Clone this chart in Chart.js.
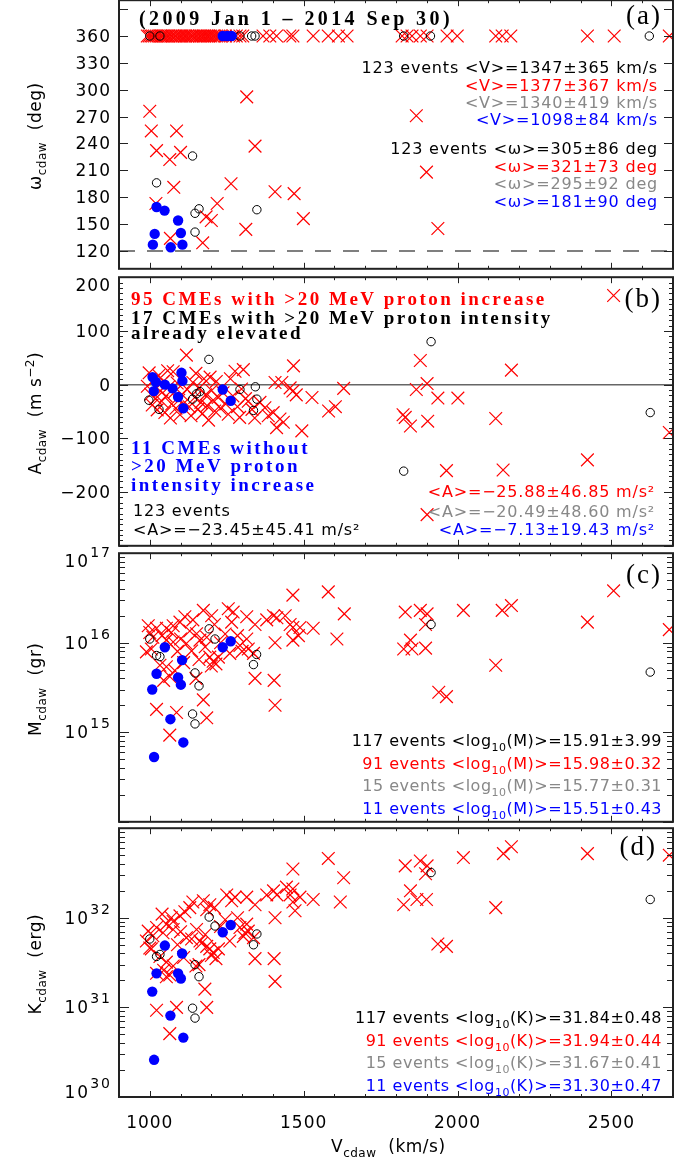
<!DOCTYPE html>
<html>
<head>
<meta charset="utf-8">
<title>CDAW CMEs 2009-2014</title>
<script src="https://cdn.jsdelivr.net/npm/chart.js@4.4.1/dist/chart.umd.min.js"></script>
<style>
  body { margin: 0; background: #fff; }
  #tablero { position: relative; width: 699px; height: 1163px; overflow: hidden; }
  #tablero canvas { position: absolute; left: 0; }
</style>
</head>
<body>
<div id="tablero">
  <canvas id="chartOmega" width="699" height="289" style="top:-10px"></canvas>
  <canvas id="chartAcel" width="699" height="289" style="top:267px"></canvas>
  <canvas id="chartMasa" width="699" height="289" style="top:543px"></canvas>
  <canvas id="chartEnergia" width="699" height="345" style="top:818px"></canvas>
</div>
<script>
const SANS = '"DejaVu Sans", sans-serif';
const SERIF = '"Liberation Serif", "Times New Roman", serif';
const ROJO = '#ff0000', AZUL = '#0000ff', GRIS = '#888888', NEGRO = '#000000';

// --- ejes ---
const vTicks = [1000, 1500, 2000, 2500];
const vMinor = [900, 1100, 1200, 1300, 1400, 1600, 1700, 1800, 1900, 2100, 2200, 2300, 2400, 2600, 2700];
const omegaTicks = [120, 150, 180, 210, 240, 270, 300, 330, 360];
const acelTicks = [-200, -100, 0, 100, 200];
const masaExp = [15, 16, 17];
const energiaExp = [30, 31, 32];

// --- (a) ancho angular [V, omega] ---
const omegaRed360 = [992, 998, 1004, 1009, 1015, 1021, 1027, 1034, 1039, 1044, 1051, 1057, 1062, 1069, 1074,
  1081, 1086, 1093, 1099, 1105, 1112, 1117, 1123, 1130, 1136, 1141, 1148, 1154, 1161, 1166, 1173, 1179, 1186,
  1192, 1198, 1205, 1211, 1217, 1224, 1230, 1246, 1272, 1281, 1293, 1302, 1368, 1390, 1412, 1455, 1465, 1531,
  1580, 1613, 1641, 1820, 1836, 1852, 1879, 1901, 1966, 1999, 2124, 2145, 2173, 2422, 2509, 2688];
const omegaRed = [[1000, 276], [1005, 254], [1022, 232], [1065, 222], [1087, 254], [1100, 230], [1078, 191],
  [1020, 173], [1067, 134], [1172, 129], [1183, 158], [1200, 154], [1219, 173], [1264, 195], [1315, 292],
  [1342, 237], [1312, 144], [1407, 186], [1469, 184], [1499, 156], [1866, 271], [1899, 208], [1936, 145]];
const omegaBlack360 = [1000, 1033, 1293, 1331, 1342, 1825, 1912, 2623];
const omegaBlack = [[1022, 196], [1139, 226], [1147, 162], [1160, 167], [1147, 141], [1348, 166]];
const omegaBlue = [[1010, 127], [1016, 139], [1022, 169], [1048, 165], [1068, 124], [1092, 154], [1101, 140],
  [1106, 127], [1237, 360], [1252, 360], [1266, 360]];

// --- (b) aceleracion [V, A] ---
const acelRed = [[992, -3], [998, 22], [1003, -18], [1008, -38], [1014, 9], [1019, -26], [1024, -47], [1029, 17],
  [1034, -12], [1039, -31], [1044, 6], [1049, -52], [1053, -21], [1058, 26], [1062, -4], [1067, -62], [1071, -36],
  [1076, 24], [1080, -14], [1085, -44], [1089, 3], [1094, -29], [1098, -56], [1104, -18], [1110, -35], [1119, 55],
  [1122, -9], [1128, -41], [1134, -58], [1140, 4], [1146, -24], [1150, 21], [1156, -46], [1161, -6], [1166, -33],
  [1171, -54], [1176, 11], [1181, -19], [1186, -39], [1191, -66], [1196, 14], [1201, -11], [1206, -29], [1211, -49],
  [1216, 6], [1222, -24], [1229, -44], [1238, -15], [1247, -36], [1255, -55], [1262, 11], [1270, -21], [1277, 25],
  [1285, -41], [1292, -61], [1298, -8], [1304, 28], [1311, -26], [1320, -31], [1332, -46], [1341, -62], [1358, -33],
  [1374, -43], [1385, -58], [1401, -52], [1407, 4], [1412, -80], [1423, -64], [1429, 4], [1434, -70], [1456, -6],
  [1465, -12], [1467, 35], [1476, -19], [1494, -86], [1527, -24], [1581, -49], [1603, -41], [1630, -7],
  [1823, -56], [1830, -61], [1847, -77], [1866, -9], [1879, 45], [1901, 2], [1901, -242], [1903, -68], [1936, -25],
  [1964, -160], [2001, -25], [2124, -63], [2148, -159], [2175, 27], [2422, -140], [2507, 166], [2688, -89]];
const acelBlack = [[997, -29], [1030, -46], [1192, 47], [1139, -27], [1152, -17], [1163, -13], [1293, -9],
  [1343, -4], [1348, -27], [1337, -48], [1914, 80], [1825, -161], [2626, -52]];
const acelBlue = [[1009, 14], [1013, -12], [1020, 5], [1049, 0], [1074, -7], [1092, -23], [1103, 22], [1106, 7],
  [1109, -44], [1237, -9], [1263, -30]];

// --- (c) masa [V, M (gr)] ---
const masaRed = [[2507, 3.8e16], [1632, 2.1e16], [1830, 2.2e16], [1879, 2.3e16], [1901, 2.1e16], [1896, 1.6e16],
  [1825, 8.5e15], [1847, 1.07e16], [1852, 8.5e15], [1896, 8.7e15], [2019, 2.3e16], [2145, 2.3e16], [2175, 2.6e16],
  [2422, 1.7e16], [2688, 1.4e16], [2124, 5.6e15], [1939, 2.8e15], [1964, 2.5e15],
  [1465, 3.4e16], [1580, 3.7e16], [1608, 1.1e16], [1465, 1.07e16], [1483, 1.2e16], [1465, 1.48e16], [1456, 1.6e16],
  [1488, 1.48e16], [1531, 1.45e16], [1407, 1.0e16], [1402, 2.0e16], [1413, 1.9e16], [1380, 1.8e16], [1440, 2.0e16],
  [1315, 1.95e16], [1342, 1.6e16], [1315, 1.1e16], [1320, 8.5e15], [1337, 7.6e15], [1342, 4.0e15], [1404, 3.8e15],
  [1407, 2.0e15],
  [1255, 2.4e16], [1266, 1.7e16], [1271, 2.2e16], [1174, 2.3e16], [1201, 2.0e16], [1114, 1.95e16], [1098, 1.7e16],
  [1076, 1.55e16], [1054, 1.45e16], [1054, 1.07e16], [1076, 1.02e16], [995, 1.55e16], [1022, 1.45e16], [1005, 8.5e15],
  [989, 7.9e15], [1033, 5.6e15], [1054, 5.4e15], [1081, 4.9e15], [1065, 4.2e15], [1119, 9.8e15], [1136, 8.1e15],
  [1152, 1.26e16], [1163, 1.07e16], [1185, 1.15e16], [1195, 6.9e15], [1206, 6.2e15], [1223, 6.9e15], [1174, 2.3e15],
  [1185, 1.45e15], [1022, 1.8e15], [1087, 1.66e15], [1065, 9.3e14], [1260, 7.6e15], [1293, 9.3e15],
  [1040, 1.2e16], [1090, 8.0e15], [1130, 1.35e16], [1215, 5.8e15], [1230, 1.0e16], [1245, 1.25e16], [1110, 6.0e15],
  [1160, 6.5e15], [1200, 5.5e15], [1180, 9.0e15], [1010, 1.15e16], [1070, 1.3e16], [1300, 8.0e15], [1285, 1.2e16],
  [1150, 4.0e15], [1045, 3.8e15], [1210, 1.6e16], [1140, 1.8e16], [1000, 1.3e16], [1100, 1.1e16]];
const masaBlack = [[1000, 1.1e16], [1022, 7.2e15], [1033, 7.0e15], [1139, 1.6e15], [1147, 1.24e15], [1147, 4.6e15],
  [1160, 3.3e15], [1193, 1.43e16], [1212, 1.1e16], [1337, 5.7e15], [1347, 7.4e15], [1914, 1.6e16], [2626, 4.7e15]];
const masaBlue = [[1008, 3.0e15], [1014, 5.3e14], [1022, 4.5e15], [1049, 8.9e15], [1067, 1.4e15], [1092, 4.1e15],
  [1101, 3.4e15], [1105, 6.4e15], [1109, 7.7e14], [1237, 8.9e15], [1263, 1.04e16]];

// --- (d) energia cinetica [V, K (erg)] ---
const energiaRed = [[2422, 5.2e32], [2688, 5.0e32], [2149, 5.2e32], [2175, 6.2e32], [2019, 4.7e32], [1830, 3.8e32],
  [1879, 4.3e32], [1901, 3.8e32], [1896, 3.1e32], [1847, 2.0e32], [1868, 1.6e32], [1825, 1.4e32], [1899, 1.6e32],
  [2124, 1.3e32], [1936, 5.1e31], [1964, 4.8e31], [1630, 2.8e32], [1619, 1.5e32],
  [1580, 4.6e32], [1465, 3.5e32], [1465, 2.1e32], [1456, 1.8e32], [1488, 1.7e32], [1531, 1.6e32], [1465, 1.5e32],
  [1472, 1.2e32], [1444, 2.2e32], [1407, 1.0e32], [1402, 2.0e32], [1380, 1.8e32], [1413, 1.8e32], [1315, 1.7e32],
  [1342, 1.4e32], [1315, 8.5e31], [1320, 7.1e31], [1337, 6.0e31], [1304, 6.2e31], [1342, 3.5e31], [1404, 3.5e31],
  [1407, 1.95e31],
  [1250, 1.8e32], [1266, 1.55e32], [1277, 1.7e32], [1174, 1.55e32], [1195, 1.4e32], [1185, 1.23e32], [1114, 1.17e32],
  [1098, 1.05e32], [1076, 9.1e31], [1054, 8.5e31], [1076, 7.4e31], [1043, 6.8e31], [1022, 7.8e31], [995, 7.1e31],
  [1005, 4.5e31], [989, 5.5e31], [1000, 4.6e31], [1033, 3.7e31], [1054, 3.2e31], [1076, 2.9e31], [1065, 2.3e31],
  [1119, 6.0e31], [1136, 5.8e31], [1152, 7.4e31], [1168, 5.2e31], [1185, 4.8e31], [1195, 4.5e31], [1206, 4.1e31],
  [1223, 4.5e31], [1163, 5.5e31], [1260, 5.5e31], [1293, 7.8e31], [1309, 6.8e31], [1179, 1.6e31], [1185, 1.0e31],
  [1022, 9.3e30], [1087, 1.0e31], [1065, 5.1e30], [1022, 2.4e31], [1054, 2.2e31],
  [1040, 1.1e32], [1090, 5.0e31], [1130, 1.3e32], [1215, 3.5e31], [1230, 8.0e31], [1245, 9.5e31], [1110, 3.6e31],
  [1160, 3.0e31], [1200, 3.8e31], [1180, 6.5e31], [1010, 6.3e31], [1070, 1.0e32], [1285, 1.0e32], [1150, 2.9e31],
  [1045, 2.6e31], [1210, 1.3e32], [1140, 1.5e32], [1100, 7.0e31]];
const energiaBlack = [[1000, 5.8e31], [1022, 3.7e31], [1033, 3.9e31], [1147, 3.0e31], [1160, 2.2e31], [1139, 9.8e30],
  [1147, 7.6e30], [1193, 1.02e32], [1212, 8.1e31], [1337, 5.0e31], [1348, 6.6e31], [1914, 3.2e32], [2626, 1.6e32]];
const energiaBlue = [[1008, 1.5e31], [1014, 2.6e30], [1022, 2.4e31], [1049, 4.9e31], [1067, 8.1e30], [1092, 2.4e31],
  [1101, 2.1e31], [1105, 4.0e31], [1109, 4.6e30], [1237, 6.9e31], [1263, 8.3e31]];

// --- texto con subindices / superindices ---
function dibujarTexto(ctx, partes, x, y, alinear, tam, familia, peso, espacio) {
  const fuente = p => `${peso || ''} ${p.s ? Math.round(tam * (p.f || 0.7)) : tam}px ${familia}`;
  ctx.letterSpacing = (espacio || 0) + 'px';
  let ancho = 0;
  partes.forEach(p => { ctx.font = fuente(p); ancho += ctx.measureText(p.t).width; });
  let cx = alinear === 'right' ? x - ancho : alinear === 'center' ? x - ancho / 2 : x;
  ctx.textAlign = 'left';
  ctx.textBaseline = 'alphabetic';
  partes.forEach(p => {
    ctx.font = fuente(p);
    ctx.fillStyle = p.c || NEGRO;
    let dy = 0;
    if (p.s === 'sub') dy = p.d !== undefined ? p.d : tam * 0.3;
    if (p.s === 'sup') dy = p.d !== undefined ? p.d : -tam * 0.42;
    ctx.fillText(p.t, cx, y + dy);
    cx += ctx.measureText(p.t).width;
  });
  ctx.letterSpacing = '0px';
}

// --- marco estilo IDL: ticks hacia dentro, etiquetas, textos ---
const marcoIDL = {
  id: 'marcoIDL',
  beforeDatasetsDraw(chart, args, o) {
    if (!o.ref) return;
    const { ctx, chartArea: a } = chart;
    const py = chart.scales.y.getPixelForValue(o.ref.v);
    ctx.save();
    ctx.strokeStyle = o.ref.color;
    ctx.lineWidth = o.ref.w;
    ctx.setLineDash(o.ref.dash || []);
    ctx.beginPath(); ctx.moveTo(a.left, py); ctx.lineTo(a.right, py); ctx.stroke();
    ctx.restore();
  },
  afterDatasetsDraw(chart, args, o) {
    const { ctx, chartArea: a, scales: { x, y } } = chart;
    const seg = (x1, y1, x2, y2) => { ctx.beginPath(); ctx.moveTo(x1, y1); ctx.lineTo(x2, y2); ctx.stroke(); };
    ctx.save();
    ctx.strokeStyle = '#222';
    ctx.lineWidth = 1;

    vTicks.forEach(v => {
      const px = Math.round(x.getPixelForValue(v)) + 0.5;
      seg(px, a.bottom, px, a.bottom - 6); seg(px, a.top, px, a.top + 6);
    });
    vMinor.forEach(v => {
      const px = Math.round(x.getPixelForValue(v)) + 0.5;
      seg(px, a.bottom, px, a.bottom - 3); seg(px, a.top, px, a.top + 3);
    });

    const mayores = [], menores = [];
    if (o.log) {
      for (let e = o.log[0]; e <= o.log[1]; e++) {
        mayores.push(Math.pow(10, e));
        if (e < o.log[1]) for (let k = 2; k < 10; k++) menores.push(k * Math.pow(10, e));
      }
    } else {
      for (let v = o.major[0]; v <= y.max; v += o.major[1]) mayores.push(v);
      if (o.minor) for (let v = y.min; v <= y.max; v += o.minor) menores.push(v);
    }
    mayores.forEach(v => {
      const py = Math.round(y.getPixelForValue(v)) + 0.5;
      seg(a.left, py, a.left + o.largo[0], py); seg(a.right, py, a.right - o.largo[0], py);
    });
    menores.forEach(v => {
      const py = Math.round(y.getPixelForValue(v)) + 0.5;
      seg(a.left, py, a.left + o.largo[1], py); seg(a.right, py, a.right - o.largo[1], py);
    });

    ctx.lineWidth = 2;
    ctx.strokeRect(a.left, a.top, a.right - a.left, a.bottom - a.top);

    // etiquetas del eje y
    const limitar = py => Math.min(Math.max(py, a.top + 8), a.bottom - 5);
    if (o.log) {
      o.etiquetas.forEach(e => {
        const py = limitar(y.getPixelForValue(Math.pow(10, e)));
        dibujarTexto(ctx, [{ t: '10' }, { t: String(e), s: 'sup', f: 0.8, d: -10 }], 112, py + 6, 'right', 17, SANS, '', 2);
      });
    } else {
      o.etiquetas.forEach(v => {
        const py = limitar(y.getPixelForValue(v));
        const t = v < 0 ? '\u2212' + Math.abs(v) : String(v);
        dibujarTexto(ctx, [{ t }], 111, py + 6, 'right', 17, SANS, '', 1);
      });
    }

    // titulo eje y (rotado)
    ctx.save();
    ctx.translate(41, a.top + 136);
    ctx.rotate(-Math.PI / 2);
    dibujarTexto(ctx, o.tituloY, 0, 0, 'center', 17, SANS, '', 0.5);
    ctx.restore();

    // eje x solo en el ultimo panel
    if (o.ejeX) {
      vTicks.forEach(v => dibujarTexto(ctx, [{ t: String(v) }], x.getPixelForValue(v), a.bottom + 31, 'center', 17, SANS, '', 1));
      dibujarTexto(ctx, [{ t: 'V' }, { t: 'cdaw', s: 'sub' }, { t: '  (km/s)' }], 331, a.bottom + 55, 'left', 17, SANS, '', 0.5);
    }

    (o.textos || []).forEach(tx =>
      dibujarTexto(ctx, tx.p, tx.x, a.top + tx.dy, tx.al || 'left', tx.tam, tx.fam, tx.peso, tx.esp));
    ctx.restore();
  }
};

function pts(lista) { return lista.map(p => ({ x: p[0], y: p[1] })); }

function grupos(azul, negro, rojo) {
  return [
    { data: pts(azul), pointStyle: 'circle', pointRadius: 5.2, backgroundColor: AZUL, borderColor: AZUL, borderWidth: 0, clip: 0 },
    { data: pts(negro), pointStyle: 'circle', pointRadius: 4.2, backgroundColor: 'rgba(0,0,0,0)', borderColor: NEGRO, borderWidth: 1, clip: 0 },
    { data: pts(rojo), pointStyle: 'crossRot', pointRadius: 9, backgroundColor: ROJO, borderColor: ROJO, borderWidth: 1.2, clip: 0 }
  ];
}

function crearPanel(id, escalaY, datasets, opciones, padAbajo) {
  return new Chart(document.getElementById(id), {
    type: 'scatter',
    data: { datasets },
    options: {
      responsive: false,
      animation: false,
      devicePixelRatio: 1,
      events: [],
      layout: { padding: { left: 119, right: 26, top: 10, bottom: padAbajo } },
      scales: {
        x: { type: 'linear', min: 900, max: 2700, display: false },
        y: Object.assign({ display: false }, escalaY)
      },
      plugins: { legend: { display: false }, tooltip: { enabled: false }, marcoIDL: opciones }
    },
    plugins: [marcoIDL]
  });
}

const linea = (t, c) => [{ t, c }];
const stat = (x, dy, p, esp) => ({ x, dy, al: 'right', tam: 16, fam: SANS, esp: esp || 0.8, p });
const logStat = (n, q, val, c) => [{ t: n + ' events <log', c }, { t: '10', s: 'sub', c }, { t: '(' + q + ')>=' + val, c }];

// (a)
crearPanel('chartOmega', { type: 'linear', min: 100, max: 400 },
  grupos(omegaBlue, omegaBlack360.map(v => [v, 360]).concat(omegaBlack), omegaRed360.map(v => [v, 360]).concat(omegaRed)),
  {
    major: [120, 30], largo: [9, 0], etiquetas: omegaTicks,
    ref: { v: 120, color: '#555', w: 1.5, dash: [16, 12] },
    tituloY: [{ t: '\u03c9' }, { t: 'cdaw', s: 'sub' }, { t: '  (deg)' }],
    textos: [
      { x: 139, dy: 25, tam: 20, fam: SERIF, peso: 'bold', esp: 3.4, p: linea('(2009 Jan 1 \u2013 2014 Sep 30)', NEGRO) },
      { x: 662, dy: 24, al: 'right', tam: 27, fam: SERIF, esp: 2, p: linea('(a)', NEGRO) },
      stat(658, 73, linea('123 events <V>=1347\u00b1365 km/s', NEGRO)),
      stat(658, 90.5, linea('<V>=1377\u00b1367 km/s', ROJO)),
      stat(658, 108, linea('<V>=1340\u00b1419 km/s', GRIS)),
      stat(658, 125, linea('<V>=1098\u00b184 km/s', AZUL)),
      stat(658, 154, linea('123 events <\u03c9>=305\u00b186 deg', NEGRO)),
      stat(658, 171.5, linea('<\u03c9>=321\u00b173 deg', ROJO)),
      stat(658, 189, linea('<\u03c9>=295\u00b192 deg', GRIS)),
      stat(658, 206.5, linea('<\u03c9>=181\u00b190 deg', AZUL))
    ]
  }, 10);

// (b)
const serifB = (dy, t, c) => ({ x: 131, dy, tam: 19, fam: SERIF, peso: 'bold', esp: 2.5, p: linea(t, c) });
crearPanel('chartAcel', { type: 'linear', min: -300, max: 200 },
  grupos(acelBlue, acelBlack, acelRed),
  {
    major: [-300, 100], minor: 10, largo: [9, 4], etiquetas: acelTicks,
    ref: { v: 0, color: '#666', w: 1.5 },
    tituloY: [{ t: 'A' }, { t: 'cdaw', s: 'sub' }, { t: '  (m s' }, { t: '\u22122', s: 'sup' }, { t: ')' }],
    textos: [
      serifB(28, '95 CMEs with >20 MeV proton increase', ROJO),
      serifB(47, '17 CMEs with >20 MeV proton intensity', NEGRO),
      serifB(62, 'already elevated', NEGRO),
      serifB(177, '11 CMEs without', AZUL),
      serifB(195, '>20 MeV proton', AZUL),
      serifB(214, 'intensity increase', AZUL),
      { x: 662, dy: 30, al: 'right', tam: 27, fam: SERIF, esp: 2, p: linea('(b)', NEGRO) },
      { x: 133, dy: 239, tam: 16, fam: SANS, esp: 0.8, p: linea('123 events', NEGRO) },
      { x: 133, dy: 258, tam: 16, fam: SANS, esp: 0.8, p: linea('<A>=\u221223.45\u00b145.41 m/s\u00b2', NEGRO) },
      stat(655, 219.5, linea('<A>=\u221225.88\u00b146.85 m/s\u00b2', ROJO)),
      stat(655, 239.5, linea('<A>=\u221220.49\u00b148.60 m/s\u00b2', GRIS)),
      stat(655, 258, linea('<A>=\u22127.13\u00b119.43 m/s\u00b2', AZUL))
    ]
  }, 10);

// (c)
crearPanel('chartMasa', { type: 'logarithmic', min: 1e14, max: 1e17 },
  grupos(masaBlue, masaBlack, masaRed),
  {
    log: [14, 17], largo: [10, 6], etiquetas: masaExp,
    tituloY: [{ t: 'M' }, { t: 'cdaw', s: 'sub' }, { t: '  (gr)' }],
    textos: [
      { x: 662, dy: 30, al: 'right', tam: 27, fam: SERIF, esp: 2, p: linea('(c)', NEGRO) },
      stat(662, 193, logStat('117', 'M', '15.91\u00b13.99', NEGRO), 0.5),
      stat(662, 215.5, logStat('91', 'M', '15.98\u00b10.32', ROJO), 0.5),
      stat(662, 238, logStat('15', 'M', '15.77\u00b10.31', GRIS), 0.5),
      stat(662, 261, logStat('11', 'M', '15.51\u00b10.43', AZUL), 0.5)
    ]
  }, 10);

// (d)
crearPanel('chartEnergia', { type: 'logarithmic', min: 1e30, max: 1e33 },
  grupos(energiaBlue, energiaBlack, energiaRed),
  {
    log: [30, 33], largo: [10, 6], etiquetas: energiaExp, ejeX: true,
    tituloY: [{ t: 'K' }, { t: 'cdaw', s: 'sub' }, { t: '  (erg)' }],
    textos: [
      { x: 657, dy: 27, al: 'right', tam: 27, fam: SERIF, esp: 2, p: linea('(d)', NEGRO) },
      stat(662, 195, logStat('117', 'K', '31.84\u00b10.48', NEGRO), 0.5),
      stat(662, 217.5, logStat('91', 'K', '31.94\u00b10.44', ROJO), 0.5),
      stat(662, 240, logStat('15', 'K', '31.67\u00b10.41', GRIS), 0.5),
      stat(662, 262.5, logStat('11', 'K', '31.30\u00b10.47', AZUL), 0.5)
    ]
  }, 66);
</script>
</body>
</html>
